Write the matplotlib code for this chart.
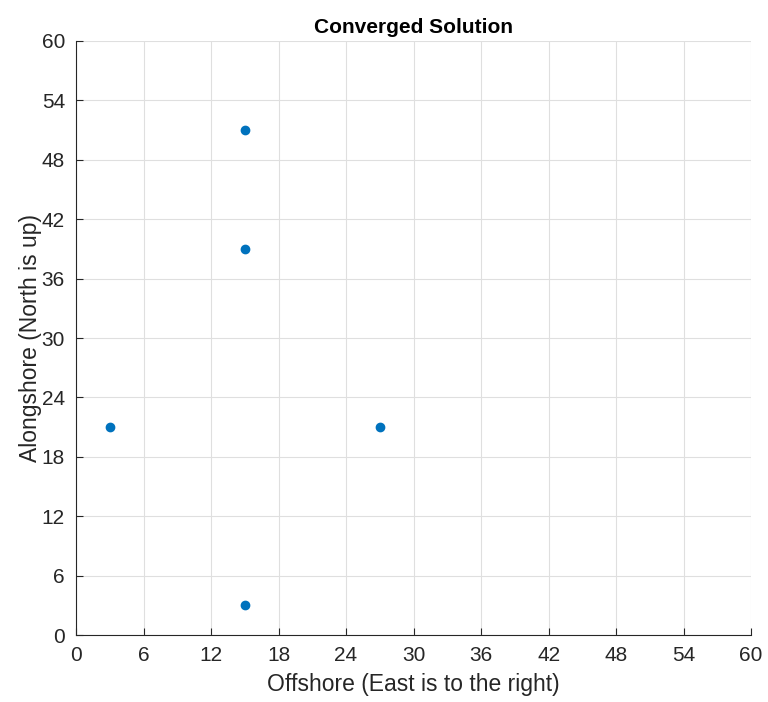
import matplotlib.pyplot as plt

plt.rcParams['font.family'] = ['Liberation Sans', 'DejaVu Sans']

x = [3, 15, 15, 15, 27]
y = [21, 51, 39, 3, 21]
ticks = list(range(0, 61, 6))

fig = plt.figure(figsize=(7.68, 7.02), dpi=100)
ax = fig.add_axes([0.099, 0.0954, 0.879, 0.8462])
ax.plot(x, y, 'o', color='#0072BD', markersize=6, zorder=3)

ax.set_xlim(0, 60)
ax.set_ylim(0, 60)
ax.set_xticks(ticks)
ax.set_yticks(ticks)
ax.grid(True, color='#dfdfdf', linewidth=0.8)
ax.set_axisbelow(True)
for s in ['top', 'right']:
    ax.spines[s].set_visible(False)
for s in ['left', 'bottom']:
    ax.spines[s].set_color('#262626')
    ax.spines[s].set_linewidth(0.8)
ax.tick_params(direction='in', length=5, colors='#262626', labelsize=15, pad=8)

ax.set_title('Converged Solution', fontsize=15, fontweight='bold', pad=6)
ax.set_xlabel('Offshore (East is to the right)', fontsize=16.5, color='#262626', labelpad=6)
ax.set_ylabel('Alongshore (North is up)', fontsize=16.5, color='#262626', labelpad=0)

fig.savefig('out.png', dpi=100)
